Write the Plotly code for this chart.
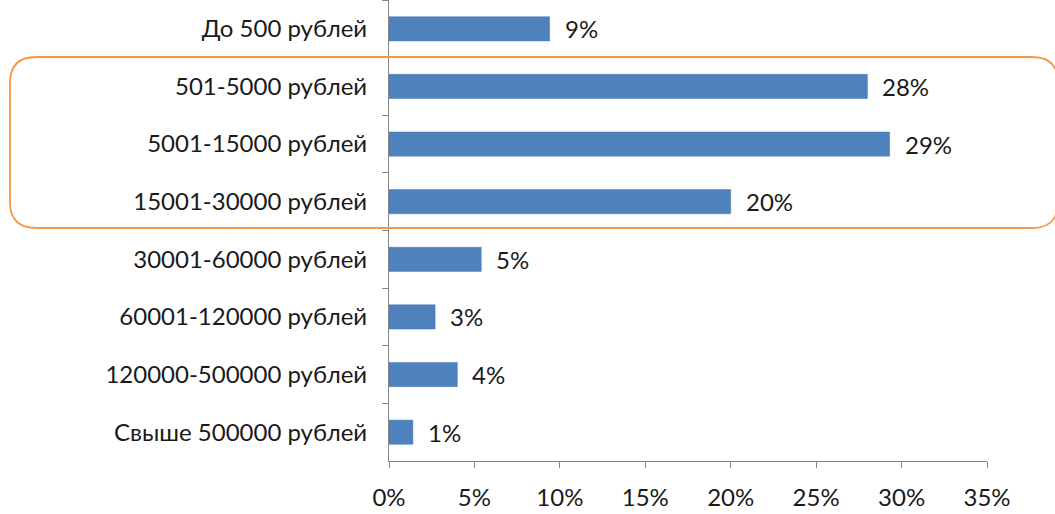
import plotly.graph_objects as go

categories = ["До 500 рублей", "501-5000 рублей", "5001-15000 рублей", "15001-30000 рублей",
              "30001-60000 рублей", "60001-120000 рублей", "120000-500000 рублей", "Свыше 500000 рублей"]
values = [9.4, 28.0, 29.3, 20.0, 5.4, 2.7, 4.0, 1.4]
labels = ["9%", "28%", "29%", "20%", "5%", "3%", "4%", "1%"]
xticks = [0, 5, 10, 15, 20, 25, 30, 35]
xticklabels = ["0%", "5%", "10%", "15%", "20%", "25%", "30%", "35%"]

FONT = "Lato"
FS = 24
fig = go.Figure()
fig.add_trace(go.Bar(
    y=categories, x=values, orientation="h",
    marker=dict(color="#4f81bd", line=dict(color="#4a7ab5", width=0.5)),
    width=0.42, hoverinfo="skip",
))
for c, v, t in zip(categories, values, labels):
    fig.add_annotation(x=v, y=c, text=t, showarrow=False, xanchor="left",
                       xshift=13, font=dict(family=FONT, size=FS, color="#1a1a1a"))

L, R, T, B = 389, 68, 0, 53
W, H = 1055, 514
pw, ph = W - L - R, H - T - B
def px(x): return (x - L) / pw
def py(y): return 1 - (y - T) / ph
x0, x1, y0, y1 = px(10), px(1058), py(228), py(57)
rx, ry = 26 / pw, 26 / ph
path = (f"M {x0+rx},{y1} L {x1-rx},{y1} Q {x1},{y1} {x1},{y1-ry} L {x1},{y0+ry} "
        f"Q {x1},{y0} {x1-rx},{y0} L {x0+rx},{y0} Q {x0},{y0} {x0},{y0+ry} "
        f"L {x0},{y1-ry} Q {x0},{y1} {x0+rx},{y1} Z")
fig.add_shape(type="path", path=path, xref="paper", yref="paper",
              line=dict(color="#f79646", width=1.8))

fig.update_layout(
    width=W, height=H, margin=dict(l=L, r=R, t=T, b=B, autoexpand=False),
    plot_bgcolor="white", paper_bgcolor="white", showlegend=False,
    font=dict(family=FONT, size=FS, color="#1a1a1a"),
    xaxis=dict(range=[0, 35], tickvals=xticks, ticktext=xticklabels, showgrid=False,
               zeroline=False, showline=True, linecolor="#868686", linewidth=1,
               ticks="outside", ticklen=6, tickcolor="#868686", ticklabelstandoff=9,
               automargin=False, fixedrange=True),
    yaxis=dict(categoryorder="array", categoryarray=categories, autorange="reversed",
               showgrid=False, zeroline=False, showline=True, linecolor="#868686",
               linewidth=1, ticks="outside", ticklen=6, tickcolor="#868686",
               tickson="boundaries", ticklabelstandoff=16, automargin=False, fixedrange=True),
)
fig.write_html("out.html", config={"displayModeBar": False},
               post_script="document.body.style.margin='0';document.body.style.overflow='hidden';")
